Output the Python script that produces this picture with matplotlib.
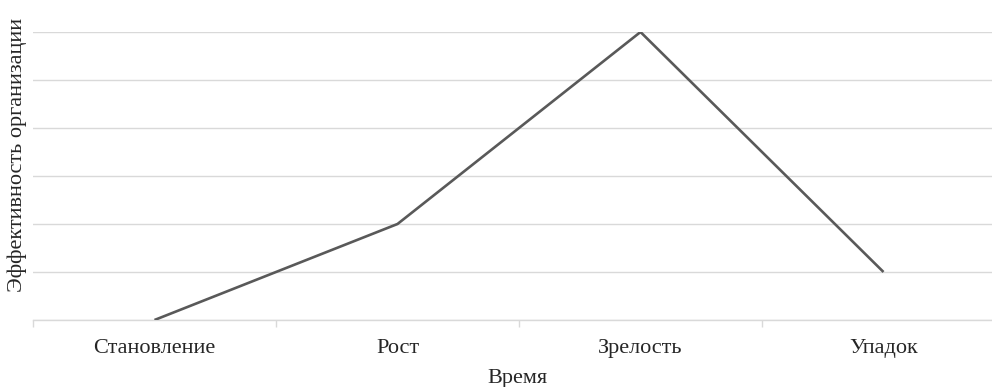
import matplotlib
matplotlib.use("Agg")
import matplotlib.pyplot as plt

categories = ["Становление", "Рост", "Зрелость", "Упадок"]
values = [0, 2, 6, 1]
y_levels = [0, 1, 2, 3, 4, 5, 6]

plt.rcParams['font.family'] = ['Liberation Serif', 'DejaVu Serif']

fig = plt.figure(figsize=(9.92, 3.87), dpi=100)
ax = fig.add_axes([33/992, (387-320)/387, 972/992, 288/387])

ax.plot(range(len(categories)), values, color="#595959", lw=1.9, solid_capstyle="butt", zorder=3)

ax.set_xlim(-0.5, len(categories) - 0.5)
ax.set_ylim(0, 6)
ax.set_yticks(y_levels)
ax.set_yticklabels([])
ax.tick_params(axis="y", length=0)
ax.grid(axis="y", color="#d9d9d9", lw=1)
ax.set_axisbelow(True)

ax.set_xticks(range(len(categories)))
ax.set_xticklabels(categories, fontsize=16, color="#262626")
ax.tick_params(axis="x", length=0, pad=14)
ax.set_xticks([i - 0.5 for i in range(len(categories) + 1)], minor=True)
ax.tick_params(axis="x", which="minor", length=5, color="#d9d9d9", width=1)

for s in ["top", "right", "left"]:
    ax.spines[s].set_visible(False)
ax.spines["bottom"].set_color("#d9d9d9")
ax.spines["bottom"].set_linewidth(1)

fig.text(17/992, 1 - 155/387, "Эффективность организации", rotation=90,
         ha="center", va="center", fontsize=16, color="#262626")
fig.text(517/992, 1 - 379/387, "Время", ha="center", va="center", fontsize=16, color="#262626")

fig.savefig("out.png", dpi=100)
